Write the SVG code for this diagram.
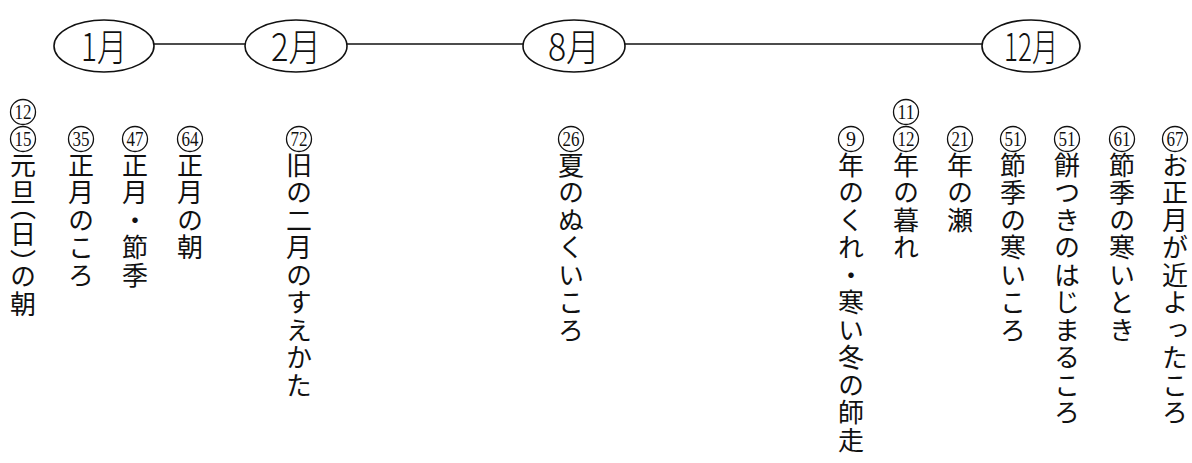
<svg xmlns="http://www.w3.org/2000/svg" width="1192" height="463" viewBox="0 0 1192 463">
<style>
.ell{fill:#fff;stroke:#111;stroke-width:1.6}
.mon{font-family:"Noto Sans CJK JP","Liberation Sans",sans-serif;font-size:38px;font-weight:300;fill:#111;text-anchor:middle}
.con{stroke:#111;stroke-width:1.6;fill:none}
.cn{fill:#fff;stroke:#111;stroke-width:1.3}
.num{font-family:"Liberation Serif",serif;font-size:20px;fill:#111;text-anchor:middle}
.v{font-family:"Noto Sans CJK JP",sans-serif;font-size:26px;letter-spacing:1.5px;writing-mode:vertical-rl;fill:#111}
.h{font-feature-settings:"vhal" 1}
</style>
<rect width="1192" height="463" fill="#fff"/>
<g id="connectors">
<line class="con" x1="154" y1="44" x2="245" y2="44"/>
<line class="con" x1="347" y1="44" x2="523" y2="44"/>
<line class="con" x1="625" y1="44" x2="982" y2="44"/>
</g>
<g id="m1"><ellipse class="ell" cx="104" cy="46" rx="50" ry="26"/><text class="mon" x="104" y="61" textLength="46" lengthAdjust="spacingAndGlyphs">1月</text></g>
<g id="m2"><ellipse class="ell" cx="296" cy="46" rx="51" ry="26"/><text class="mon" x="296" y="61" textLength="50" lengthAdjust="spacingAndGlyphs">2月</text></g>
<g id="m8"><ellipse class="ell" cx="574" cy="46" rx="51" ry="26"/><text class="mon" x="574" y="61" textLength="52" lengthAdjust="spacingAndGlyphs">8月</text></g>
<g id="m12"><ellipse class="ell" cx="1031" cy="46" rx="49" ry="26"/><text class="mon" x="1031" y="61" textLength="54" lengthAdjust="spacingAndGlyphs">12月</text></g>

<g id="colA"><circle class="cn" cx="23" cy="112" r="12.5"/><text class="num" x="23" y="119" textLength="17" lengthAdjust="spacingAndGlyphs">12</text><circle class="cn" cx="23" cy="139" r="12.5"/><text class="num" x="23" y="146" textLength="17" lengthAdjust="spacingAndGlyphs">15</text><text class="v" x="23" y="152">元旦<tspan class="h">（</tspan>日<tspan class="h">）</tspan>の朝</text></g>
<g id="colB"><circle class="cn" cx="81" cy="139" r="12.5"/><text class="num" x="81" y="146" textLength="17" lengthAdjust="spacingAndGlyphs">35</text><text class="v" x="81" y="152">正月のころ</text></g>
<g id="colC"><circle class="cn" cx="135" cy="139" r="12.5"/><text class="num" x="135" y="146" textLength="17" lengthAdjust="spacingAndGlyphs">47</text><text class="v" x="135" y="152">正月・節季</text></g>
<g id="colD"><circle class="cn" cx="190" cy="139" r="12.5"/><text class="num" x="190" y="146" textLength="17" lengthAdjust="spacingAndGlyphs">64</text><text class="v" x="190" y="152">正月の朝</text></g>
<g id="colE"><circle class="cn" cx="299" cy="139" r="12.5"/><text class="num" x="299" y="146" textLength="17" lengthAdjust="spacingAndGlyphs">72</text><text class="v" x="299" y="152">旧の二月のすえかた</text></g>
<g id="colF"><circle class="cn" cx="571" cy="139" r="12.5"/><text class="num" x="571" y="146" textLength="17" lengthAdjust="spacingAndGlyphs">26</text><text class="v" x="571" y="152">夏のぬくいころ</text></g>
<g id="colG"><circle class="cn" cx="851" cy="139" r="12.5"/><text class="num" x="851" y="146">9</text><text class="v" x="851" y="152">年のくれ・寒い冬の師走</text></g>
<g id="colH"><circle class="cn" cx="906" cy="112" r="12.5"/><text class="num" x="906" y="119" textLength="17" lengthAdjust="spacingAndGlyphs">11</text><circle class="cn" cx="906" cy="139" r="12.5"/><text class="num" x="906" y="146" textLength="17" lengthAdjust="spacingAndGlyphs">12</text><text class="v" x="906" y="152">年の暮れ</text></g>
<g id="colI"><circle class="cn" cx="960" cy="139" r="12.5"/><text class="num" x="960" y="146" textLength="17" lengthAdjust="spacingAndGlyphs">21</text><text class="v" x="960" y="152">年の瀬</text></g>
<g id="colJ"><circle class="cn" cx="1013" cy="139" r="12.5"/><text class="num" x="1013" y="146" textLength="17" lengthAdjust="spacingAndGlyphs">51</text><text class="v" x="1013" y="152">節季の寒いころ</text></g>
<g id="colK"><circle class="cn" cx="1067" cy="139" r="12.5"/><text class="num" x="1067" y="146" textLength="17" lengthAdjust="spacingAndGlyphs">51</text><text class="v" x="1067" y="152">餅つきのはじまるころ</text></g>
<g id="colL"><circle class="cn" cx="1122" cy="139" r="12.5"/><text class="num" x="1122" y="146" textLength="17" lengthAdjust="spacingAndGlyphs">61</text><text class="v" x="1122" y="152">節季の寒いとき</text></g>
<g id="colM"><circle class="cn" cx="1175" cy="139" r="12.5"/><text class="num" x="1175" y="146" textLength="17" lengthAdjust="spacingAndGlyphs">67</text><text class="v" x="1175" y="152">お正月が近よったころ</text></g>
</svg>
